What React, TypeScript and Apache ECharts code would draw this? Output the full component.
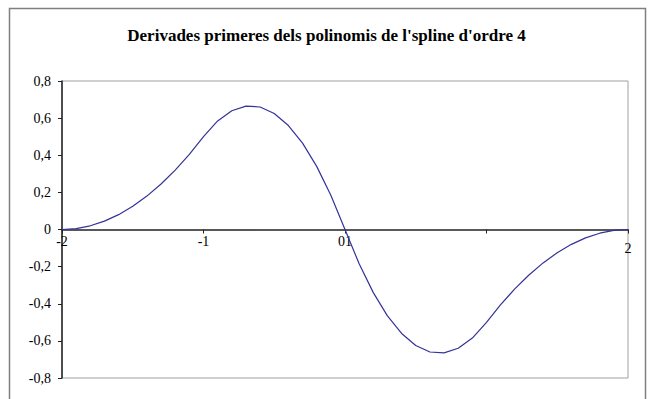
import React, { useEffect, useRef } from "react";
import * as echarts from "echarts";

// Sample abscissas (step 0.1 over the support [-2, 2])
const xValues = [
  -2, -1.9, -1.8, -1.7, -1.6, -1.5, -1.4, -1.3, -1.2, -1.1,
  -1, -0.9, -0.8, -0.7, -0.6, -0.5, -0.4, -0.3, -0.2, -0.1,
  0, 0.1, 0.2, 0.3, 0.4, 0.5, 0.6, 0.7, 0.8, 0.9,
  1, 1.1, 1.2, 1.3, 1.4, 1.5, 1.6, 1.7, 1.8, 1.9, 2,
];

// First-derivative values of the order-4 spline polynomials
const derivValues = [
  0, 0.005, 0.02, 0.045, 0.08, 0.125, 0.18, 0.245, 0.32, 0.405,
  0.5, 0.585, 0.64, 0.665, 0.66, 0.625, 0.56, 0.465, 0.34, 0.185,
  0, -0.185, -0.34, -0.465, -0.56, -0.625, -0.66, -0.665, -0.64, -0.585,
  -0.5, -0.405, -0.32, -0.245, -0.18, -0.125, -0.08, -0.045, -0.02, -0.005, 0,
];

const titleText = "Derivades primeres dels polinomis de l'spline d'ordre 4";

const serif = "Liberation Serif";

// Plot area geometry; the x axis sits on the y = 0 line, halfway down
const gridTop = 81;
const gridBottom = 21;
const gridHeight = 399 - gridTop - gridBottom;

export default function App() {
  const ref = useRef<HTMLDivElement>(null);

  useEffect(() => {
    if (!ref.current) return;
    const chart = echarts.init(ref.current, null, { renderer: "svg" });
    const points = xValues.map((x, i) => [x, derivValues[i]]);

    chart.setOption({
      animation: false,
      backgroundColor: "#ffffff",
      title: {
        text: titleText,
        left: "center",
        top: 22,
        textStyle: {
          fontFamily: serif,
          fontWeight: "bold",
          fontSize: 17,
          color: "#000",
        },
      },
      graphic: [
        {
          type: "rect",
          shape: { x: 9.5, y: 8.5, width: 636, height: 420 },
          style: { fill: "none", stroke: "#7f7f7f", lineWidth: 1.5 },
          silent: true,
        },
      ],
      grid: {
        left: 62,
        right: 25,
        top: gridTop,
        bottom: gridBottom,
        show: true,
        borderColor: "#a0a0a0",
        borderWidth: 1,
      },
      xAxis: {
        type: "value",
        min: -2,
        max: 2,
        interval: 1,
        offset: -gridHeight / 2,
        splitLine: { show: false },
        axisLine: { onZero: false, lineStyle: { color: "#222", width: 1.5 } },
        axisTick: { show: true, length: 4, lineStyle: { color: "#222" } },
        axisLabel: {
          margin: 5,
          fontFamily: serif,
          fontSize: 14,
          color: "#000",
          formatter: (v: number) => {
            if (v === 0) return "01";
            if (v === 1) return "";
            if (v === 2) return "{low|2}";
            return String(v);
          },
          rich: {
            low: {
              fontFamily: serif,
              fontSize: 14,
              color: "#000",
              padding: [7, 0, 0, 0],
            },
          },
        },
      },
      yAxis: {
        type: "value",
        min: -0.8,
        max: 0.8,
        interval: 0.2,
        splitLine: { show: false },
        axisLine: { show: true, onZero: false, lineStyle: { color: "#222", width: 1.5 } },
        axisTick: { show: true, length: 4, lineStyle: { color: "#222" } },
        axisLabel: {
          margin: 11,
          fontFamily: serif,
          fontSize: 14,
          color: "#000",
          formatter: (v: number) => {
            const r = Math.round(v * 10) / 10;
            return r === 0 ? "0" : String(r).replace(".", ",");
          },
        },
      },
      series: [
        {
          type: "line",
          data: points,
          showSymbol: false,
          lineStyle: { color: "#333399", width: 1.2 },
        },
      ],
    });

    return () => chart.dispose();
  }, []);

  return (
    <div
      ref={ref}
      style={{ position: "fixed", left: 0, top: 0, width: 653, height: 399 }}
    />
  );
}
